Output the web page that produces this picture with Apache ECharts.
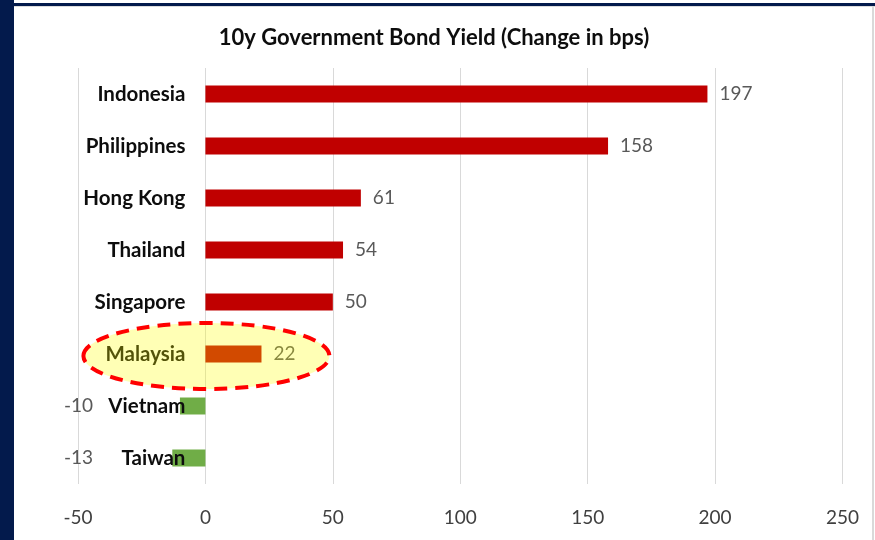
<!DOCTYPE html>
<html>
<head>
<meta charset="utf-8">
<script src="https://cdn.jsdelivr.net/npm/echarts@6/dist/echarts.min.js"></script>
<style>
  html, body { margin: 0; padding: 0; background: #ffffff; }
  #chart { width: 875px; height: 540px; }
</style>
</head>
<body>
<div id="chart"></div>
<script>
// 10-year government bond yield change, basis points
const countries = ['Indonesia', 'Philippines', 'Hong Kong', 'Thailand', 'Singapore', 'Malaysia', 'Vietnam', 'Taiwan'];
const changeBps = [197, 158, 61, 54, 50, 22, -10, -13];
const highlighted = 'Malaysia';
const axisMin = -50;
const axisMax = 250;
const axisStep = 50;

const RED = '#C00000';
const GREEN = '#70AD47';
const FONT = 'Lato, "Open Sans", sans-serif';

function buildBarData(pxPerUnit) {
  return changeBps.map(function (v) {
    const item = {
      value: v,
      itemStyle: { color: v < 0 ? GREEN : RED }
    };
    if (v < 0) {
      // negative values are labelled out near the left edge of the plot
      item.label = { position: 'left', distance: (v - axisMin) * pxPerUnit - 15 };
    }
    return item;
  });
}

const chart = echarts.init(document.getElementById('chart'), null, { renderer: 'canvas' });

chart.setOption({
  animation: false,
  backgroundColor: '#ffffff',
  title: {
    text: '10y Government Bond Yield (Change in bps)',
    left: 429,
    top: 22,
    textAlign: 'center',
    textStyle: { fontFamily: FONT, fontWeight: 'bold', fontSize: 22, color: '#0d0d0d' }
  },
  grid: { left: 78, right: 32.5, top: 68, bottom: 56, containLabel: false, outerBoundsMode: 'none' },
  xAxis: {
    type: 'value',
    min: axisMin,
    max: axisMax,
    interval: axisStep,
    axisLine: { show: false },
    axisTick: { show: false },
    splitLine: { show: true, lineStyle: { color: '#d9d9d9', width: 1 } },
    axisLabel: { fontFamily: FONT, fontSize: 19, color: '#404040', margin: 24 }
  },
  yAxis: {
    type: 'category',
    data: countries,
    inverse: true,
    z: 10,
    axisLine: { show: false, onZero: false },
    axisTick: { show: false },
    axisLabel: { fontFamily: FONT, fontSize: 20.5, fontWeight: 'bold', color: '#0d0d0d', margin: 20 }
  },
  series: [{
    type: 'bar',
    data: buildBarData(2.5),
    barWidth: 17,
    label: {
      show: true,
      position: 'right',
      distance: 12,
      fontFamily: FONT,
      fontSize: 19,
      color: '#595959'
    }
  }]
});

// Category labels sit beside the zero line, so shift the axis in from the grid edge
const zeroPx = chart.convertToPixel({ xAxisIndex: 0 }, 0);
const minPx = chart.convertToPixel({ xAxisIndex: 0 }, axisMin);
const pxPerUnit = (zeroPx - minPx) / (0 - axisMin);
chart.setOption({
  yAxis: { offset: -(zeroPx - minPx) },
  series: [{ data: buildBarData(pxPerUnit) }]
});

// Frame decorations and the highlight ellipse around the chosen country
const centre = chart.convertToPixel({ gridIndex: 0 }, [0, highlighted]);
chart.setOption({
  graphic: [
    { type: 'rect', z: 100, shape: { x: 0, y: 0, width: 14, height: 540 }, style: { fill: '#031a4c' } },
    { type: 'rect', z: 100, shape: { x: 0, y: 3, width: 875, height: 3 }, style: { fill: '#031a4c' } },
    { type: 'rect', z: 100, shape: { x: 14, y: 6, width: 861, height: 1 }, style: { fill: '#dcdcdc' } },
    { type: 'rect', z: 100, shape: { x: 872, y: 6, width: 2, height: 534 }, style: { fill: '#d9d9d9' } },
    {
      type: 'ellipse',
      z: 100,
      shape: { cx: centre[0] + 1, cy: centre[1] + 2, rx: 123, ry: 33 },
      style: {
        fill: 'rgba(255, 255, 0, 0.29)',
        stroke: '#ff0000',
        lineWidth: 4,
        lineDash: [13, 8]
      }
    }
  ]
});
</script>
</body>
</html>
